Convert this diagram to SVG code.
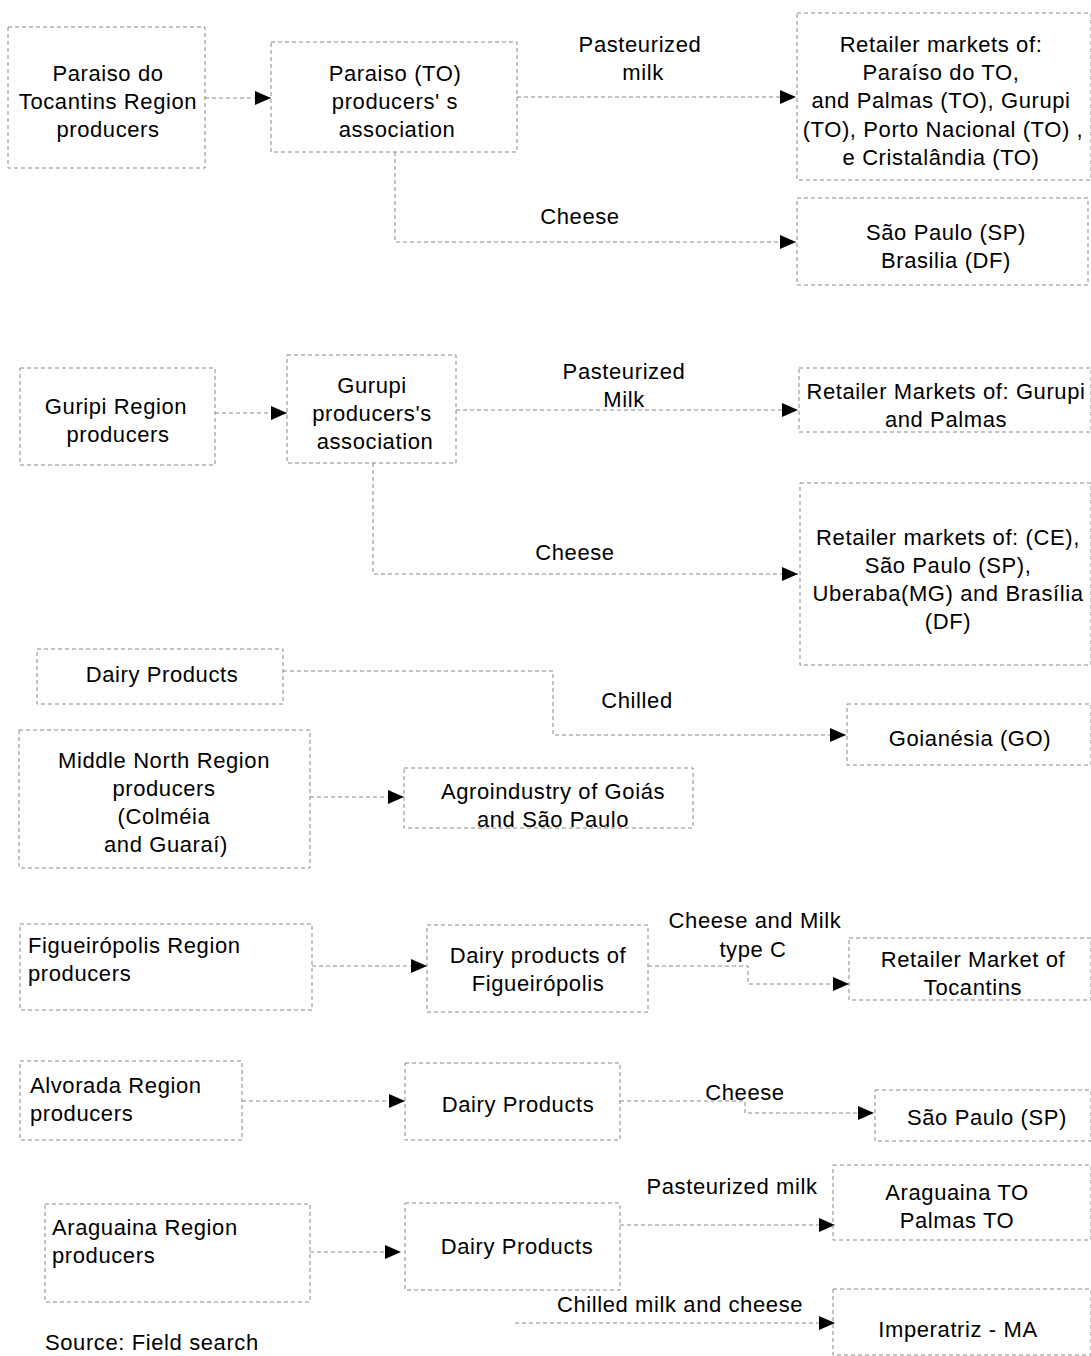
<svg xmlns="http://www.w3.org/2000/svg" width="1091" height="1356" viewBox="0 0 1091 1356">
<style>
.box{fill:none;stroke:#8a8a8a;stroke-width:1;stroke-dasharray:4 3}
.con{fill:none;stroke:#8a8a8a;stroke-width:1;stroke-dasharray:4 3}
text{font-family:"Liberation Sans",Arial,sans-serif;font-size:22px;fill:#000;letter-spacing:0.6px}
.c{text-anchor:middle}
</style>
<defs>
<marker id="arr" markerUnits="userSpaceOnUse" markerWidth="16" markerHeight="14" refX="16" refY="7" orient="auto">
<path d="M0,0 L16,7 L0,14 z" fill="#000"/>
</marker>
</defs>
<rect width="1091" height="1356" fill="#fff"/>

<g id="connectors">
<path class="con" d="M205,98 H271" marker-end="url(#arr)"/>
<path class="con" d="M517,97 H796" marker-end="url(#arr)"/>
<path class="con" d="M395,152 V242 H796" marker-end="url(#arr)"/>
<path class="con" d="M215,413 H287" marker-end="url(#arr)"/>
<path class="con" d="M456,410 H798" marker-end="url(#arr)"/>
<path class="con" d="M373,463 V574 H798" marker-end="url(#arr)"/>
<path class="con" d="M283,671 H553 V735 H846" marker-end="url(#arr)"/>
<path class="con" d="M310,797 H404" marker-end="url(#arr)"/>
<path class="con" d="M312,966 H427" marker-end="url(#arr)"/>
<path class="con" d="M648,966 H748 V984 H849" marker-end="url(#arr)"/>
<path class="con" d="M242,1101 H405" marker-end="url(#arr)"/>
<path class="con" d="M620,1101 H745 V1113 H874" marker-end="url(#arr)"/>
<path class="con" d="M310,1252 H401" marker-end="url(#arr)"/>
<path class="con" d="M620,1225 H835" marker-end="url(#arr)"/>
<path class="con" d="M515,1323 H835" marker-end="url(#arr)"/>
<text class="c" x="640" y="52">Pasteurized</text>
<text class="c" x="643" y="80">milk</text>
<text class="c" x="580" y="224">Cheese</text>
<text class="c" x="624" y="379">Pasteurized</text>
<text class="c" x="624" y="407">Milk</text>
<text class="c" x="575" y="560">Cheese</text>
<text class="c" x="637" y="708">Chilled</text>
<text class="c" x="755" y="928">Cheese and Milk</text>
<text class="c" x="753" y="957">type C</text>
<text class="c" x="745" y="1100">Cheese</text>
<text class="c" x="732" y="1194">Pasteurized milk</text>
<text class="c" x="680" y="1312">Chilled milk and cheese</text>
</g>

<g id="n1">
<rect class="box" x="8" y="27" width="197" height="141"/>
<text class="c" x="108" y="81">Paraiso do</text>
<text class="c" x="108" y="109">Tocantins Region</text>
<text class="c" x="108" y="137">producers</text>
</g>
<g id="n2">
<rect class="box" x="271" y="42" width="246" height="110"/>
<text class="c" x="395" y="81">Paraiso (TO)</text>
<text class="c" x="395" y="109">producers' s</text>
<text class="c" x="397" y="137">association</text>
</g>
<g id="n3">
<rect class="box" x="797" y="13" width="294" height="167"/>
<text class="c" x="941" y="52">Retailer markets of:</text>
<text class="c" x="941" y="80">Paraíso do TO,</text>
<text class="c" x="941" y="108">and  Palmas (TO), Gurupi</text>
<text class="c" x="943" y="137">(TO), Porto Nacional (TO) ,</text>
<text class="c" x="941" y="165">e Cristalândia (TO)</text>
</g>
<g id="n4">
<rect class="box" x="797" y="198" width="291" height="87"/>
<text class="c" x="946" y="240">São Paulo (SP)</text>
<text class="c" x="946" y="268">Brasilia (DF)</text>
</g>
<g id="n5">
<rect class="box" x="20" y="368" width="195" height="97"/>
<text class="c" x="116" y="414">Guripi Region</text>
<text class="c" x="118" y="442">producers</text>
</g>
<g id="n6">
<rect class="box" x="287" y="355" width="169" height="108"/>
<text class="c" x="372" y="393">Gurupi</text>
<text class="c" x="372" y="421">producers's</text>
<text class="c" x="375" y="449">association</text>
</g>
<g id="n7">
<rect class="box" x="799" y="368" width="292" height="64"/>
<text class="c" x="946" y="399">Retailer Markets of: Gurupi</text>
<text class="c" x="946" y="427">and  Palmas</text>
</g>
<g id="n8">
<rect class="box" x="800" y="483" width="291" height="182"/>
<text class="c" x="948" y="545">Retailer markets of: (CE),</text>
<text class="c" x="948" y="573">São Paulo (SP),</text>
<text class="c" x="948" y="601">Uberaba(MG) and Brasília</text>
<text class="c" x="948" y="629">(DF)</text>
</g>
<g id="n9">
<rect class="box" x="37" y="649" width="246" height="55"/>
<text class="c" x="162" y="682">Dairy Products</text>
</g>
<g id="n10">
<rect class="box" x="847" y="704" width="244" height="61"/>
<text class="c" x="970" y="746">Goianésia (GO)</text>
</g>
<g id="n11">
<rect class="box" x="19" y="730" width="291" height="138"/>
<text class="c" x="164" y="768">Middle North Region</text>
<text class="c" x="164" y="796">producers</text>
<text class="c" x="164" y="824">(Colméia</text>
<text class="c" x="166" y="852">and Guaraí)</text>
</g>
<g id="n12">
<rect class="box" x="404" y="768" width="289" height="60"/>
<text class="c" x="553" y="799">Agroindustry of Goiás</text>
<text class="c" x="553" y="827">and São Paulo</text>
</g>
<g id="n13">
<rect class="box" x="20" y="924" width="292" height="86"/>
<text x="28" y="953">Figueirópolis Region</text>
<text x="28" y="981">producers</text>
</g>
<g id="n14">
<rect class="box" x="427" y="925" width="221" height="87"/>
<text class="c" x="538" y="963">Dairy products of</text>
<text class="c" x="538" y="991">Figueirópolis</text>
</g>
<g id="n15">
<rect class="box" x="849" y="938" width="242" height="62"/>
<text class="c" x="973" y="967">Retailer Market of</text>
<text class="c" x="973" y="995">Tocantins</text>
</g>
<g id="n16">
<rect class="box" x="20" y="1061" width="222" height="79"/>
<text x="30" y="1093">Alvorada Region</text>
<text x="30" y="1121">producers</text>
</g>
<g id="n17">
<rect class="box" x="405" y="1063" width="215" height="77"/>
<text class="c" x="518" y="1112">Dairy Products</text>
</g>
<g id="n18">
<rect class="box" x="875" y="1090" width="216" height="51"/>
<text class="c" x="987" y="1125">São Paulo (SP)</text>
</g>
<g id="n19">
<rect class="box" x="45" y="1204" width="265" height="98"/>
<text x="52" y="1235">Araguaina Region</text>
<text x="52" y="1263">producers</text>
</g>
<g id="n20">
<rect class="box" x="405" y="1203" width="215" height="87"/>
<text class="c" x="517" y="1254">Dairy Products</text>
</g>
<g id="n21">
<rect class="box" x="833" y="1165" width="258" height="75"/>
<text class="c" x="957" y="1200">Araguaina TO</text>
<text class="c" x="957" y="1228">Palmas TO</text>
</g>
<g id="n22">
<rect class="box" x="833" y="1289" width="258" height="66"/>
<text class="c" x="958" y="1337">Imperatriz - MA</text>
</g>
<text x="45" y="1350">Source: Field search</text>
</svg>
